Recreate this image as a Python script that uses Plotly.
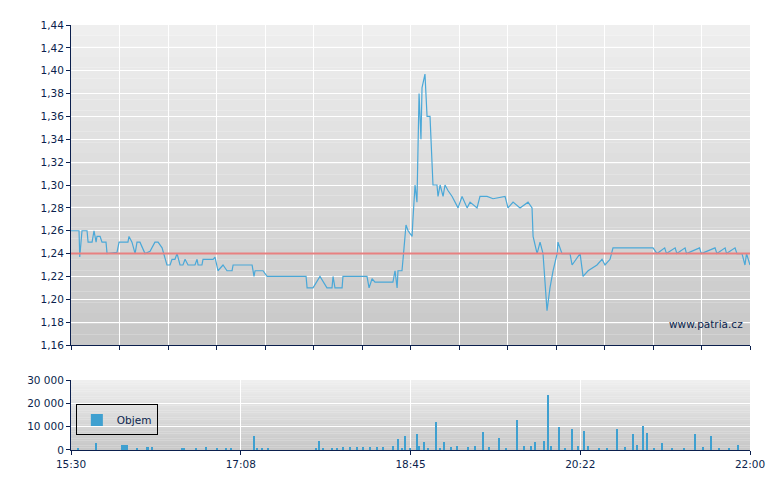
import plotly.graph_objects as go

# minutes after 15:30 and price
price_t = [0, 4.6, 5.0, 6.3, 9.2, 9.8, 12.1, 13.2, 14.4, 14.9, 16.7, 17.8, 20.1, 20.7, 26.4, 27.6, 32.7,
           33.3, 35, 36.8, 37.9, 39.6, 42.5, 45.4, 48.2, 50, 52.3, 55.1, 56.9, 58, 59.7, 60.9, 62.6,
           64.3, 65.5, 67.2, 71.2, 72.4, 73, 75.2, 75.8, 81.6, 82.7, 84.4, 87.3, 89.6, 92.5, 93.1, 104,
           105.1, 105.7, 110.3, 112.6, 135, 135.6, 139, 143, 147, 149.9, 150.5, 151.6, 155.7, 156.2,
           170, 171.2, 172.9, 174.6, 184.9, 186.1, 187.3, 187.8, 190.1, 190.7, 192.4, 193.6, 195.9,
           196.4, 197.6, 198.7, 199.9, 201, 201.6, 203.3, 204.5, 206.2, 207.9, 210.2, 210.8, 212,
           213.7, 214.8, 216.6, 218.9, 220.6, 222.3, 224.6, 227.5, 229.2, 233.2, 234.9, 239, 242.4,
           249.3, 251, 253.9, 257.9, 262.5, 264.8, 265.4, 267.7, 269.4, 271.1, 273.4, 275.1, 276.9,
           279.2, 279.7, 282, 286.6, 287.8, 292.4, 294.1, 297, 302.1, 305, 306.7, 309.6, 311.3, 315.3,
           319.4, 322.8, 326.8, 334.3, 336.6, 341, 342, 347, 348, 352.7, 353.5, 361, 362, 369.9, 371,
           375.7, 376.5, 381.4, 382.5, 385.4, 387.1, 388, 390]
price_v = [1.26, 1.26, 1.237, 1.26, 1.26, 1.25, 1.25, 1.26, 1.25, 1.255, 1.255, 1.25, 1.25, 1.24, 1.241,
           1.25, 1.25, 1.255, 1.25, 1.24, 1.25, 1.25, 1.24, 1.242, 1.25, 1.25, 1.245, 1.23, 1.23, 1.235,
           1.235, 1.24, 1.23, 1.23, 1.235, 1.23, 1.23, 1.235, 1.23, 1.23, 1.235, 1.235, 1.237, 1.225,
           1.23, 1.225, 1.225, 1.23, 1.23, 1.22, 1.225, 1.225, 1.22, 1.22, 1.21, 1.21, 1.22, 1.21, 1.21,
           1.22, 1.21, 1.21, 1.22, 1.22, 1.21, 1.218, 1.215, 1.215, 1.225, 1.21, 1.225, 1.225, 1.235,
           1.265, 1.26, 1.255, 1.27, 1.30, 1.285, 1.38, 1.34, 1.385, 1.397, 1.36, 1.36, 1.30, 1.30, 1.29,
           1.30, 1.29, 1.30, 1.295, 1.29, 1.285, 1.28, 1.29, 1.28, 1.285, 1.28, 1.29, 1.29, 1.288, 1.29,
           1.28, 1.285, 1.28, 1.285, 1.28, 1.255, 1.24, 1.25, 1.24, 1.19, 1.21, 1.225, 1.24, 1.25, 1.24,
           1.24, 1.23, 1.24, 1.22, 1.225, 1.23, 1.235, 1.23, 1.235, 1.245, 1.245, 1.245, 1.245, 1.245,
           1.245, 1.24, 1.245, 1.24, 1.245, 1.24, 1.245, 1.24, 1.245, 1.24, 1.245, 1.24, 1.245, 1.24,
           1.245, 1.24, 1.24, 1.23, 1.24, 1.23]

vol_t = [4, 14.6, 29.4, 30.5, 31.5, 32.3, 38, 43.7, 44.5, 46.5, 63.7, 65, 72, 77.4, 84, 89, 92, 105,
         107, 110, 113, 141, 142.2, 145, 150, 153, 156, 160, 164, 168, 172, 176, 179, 185, 188, 190,
         192, 195, 198.7, 200, 202.7, 205, 209.8, 212, 214.4, 218, 222, 228, 232, 236.4, 240, 245.8,
         250, 256.4, 260, 264, 266.4, 271.5, 273.8, 276, 280.1, 284, 287.8, 291, 294.4, 297, 303,
         308, 313.5, 318, 322.7, 325, 328.4, 330.7, 335, 339.3, 345, 352, 358.4, 363, 367.8, 372,
         378, 383]
vol_v = [600, 2800, 2300, 2300, 2300, 2300, 600, 1300, 1300, 1300, 1000, 1000, 500, 1300, 600, 900,
         900, 6000, 600, 600, 500, 600, 4000, 600, 800, 900, 1200, 1300, 1300, 1300, 1200, 1200,
         1200, 1500, 4500, 800, 6200, 900, 6800, 1500, 3500, 800, 12200, 1000, 3500, 1200, 1500,
         1300, 1500, 7600, 1200, 5300, 600, 13000, 1500, 1800, 3500, 4000, 23500, 1500, 9700, 700,
         9200, 1500, 8000, 1800, 700, 1000, 8800, 1200, 6700, 2300, 10200, 7200, 700, 2800, 600, 500,
         6700, 1300, 6200, 700, 600, 2200]

ref_price = 1.24

navy = '#0b1f4d'
xdom = [0.0808, 0.9513]
main_dom = [0.3122, 0.9653]
vol_dom = [0.098, 0.2408]

fig = go.Figure()

fig.add_trace(go.Scatter(x=price_t, y=price_v, mode='lines', line=dict(color='#4aa8d8', width=1.2),
                         showlegend=False, xaxis='x', yaxis='y'))
fig.add_trace(go.Scatter(x=[0, 390], y=[ref_price, ref_price], mode='lines',
                         line=dict(color='#e88080', width=2), showlegend=False, xaxis='x', yaxis='y'))
fig.add_trace(go.Bar(x=vol_t, y=vol_v, width=0.6, marker=dict(color='#3fa0d0', line=dict(width=0)),
                     name='Objem', xaxis='x2', yaxis='y2'))

# gradient background
shapes = []
n = 30
for dom in [main_dom, vol_dom]:
    for i in range(n):
        c = int(239 - (239 - 200) * i / (n - 1))
        y1 = dom[1] - (dom[1] - dom[0]) * i / n
        y0 = dom[1] - (dom[1] - dom[0]) * (i + 1) / n
        shapes.append(dict(type='rect', xref='paper', yref='paper', x0=xdom[0], x1=xdom[1],
                           y0=y0, y1=y1, fillcolor=f'rgb({c},{c},{c})', line=dict(width=0),
                           layer='below'))

main_ticks = [i * 390 / 14 for i in range(15)]
vol_ticks = [0, 97.5, 195, 292.5, 390]

axis_common = dict(showline=True, linecolor=navy, linewidth=1, ticks='outside', tickcolor=navy,
                   ticklen=4, gridcolor='white', gridwidth=1.2, zeroline=False, automargin=False,
                   tickfont=dict(family='DejaVu Sans', size=10.5, color=navy))

fig.update_layout(
    width=780, height=490, margin=dict(l=0, r=0, t=0, b=0),
    paper_bgcolor='white', plot_bgcolor='rgba(0,0,0,0)', separators=', ',
    shapes=shapes, bargap=0,
    xaxis=dict(domain=xdom, range=[0, 390], tickvals=main_ticks, showticklabels=False,
               anchor='y', **axis_common),
    yaxis=dict(domain=main_dom, range=[1.16, 1.44], dtick=0.02, tickformat='.2f',
               anchor='x', **axis_common),
    xaxis2=dict(domain=xdom, range=[0, 390], tickvals=vol_ticks,
                ticktext=['15:30', '17:08', '18:45', '20:22', '22:00'], anchor='y2', **axis_common),
    yaxis2=dict(domain=vol_dom, range=[0, 30000], tickvals=[0, 10000, 20000, 30000],
                tickformat=',d', anchor='x2', **axis_common),
    legend=dict(x=0.087, y=0.191, xanchor='left', yanchor='top', bgcolor='rgba(0,0,0,0)',
                bordercolor='black', borderwidth=1, itemwidth=30, tracegroupgap=0,
                font=dict(family='DejaVu Sans', size=10.5, color=navy)),
    annotations=[dict(text='www.patria.cz', xref='paper', yref='paper', x=0.945, y=0.356,
                      xanchor='right', yanchor='middle', showarrow=False,
                      font=dict(family='DejaVu Sans', size=10.5, color=navy))],
)

fig.write_html("out.html")
